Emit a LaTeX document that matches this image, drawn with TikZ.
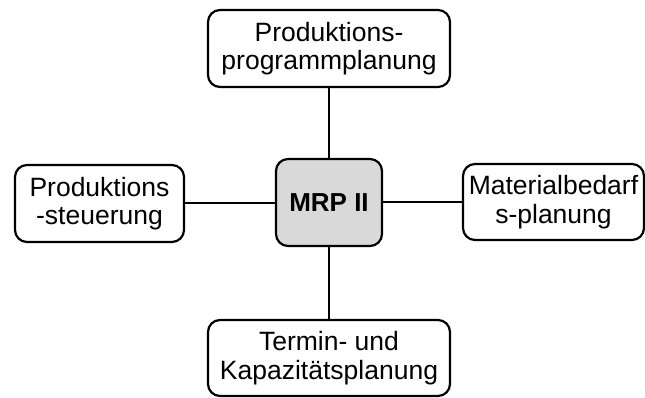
\documentclass[tikz,border=0pt]{standalone}
\usepackage{fontspec}
\setmainfont{Liberation Sans}
\begin{document}
\begin{tikzpicture}[x=1pt,y=-1pt,
  box/.style={draw=black, line width=2.2pt, rounded corners=12pt, fill=white,
    align=center, inner sep=0pt, font=\fontsize{26.5}{28.5}\selectfont},
  hub/.style={box, fill=hubgrey, font=\fontsize{26}{28}\selectfont\bfseries},
  link/.style={draw=black, line width=2pt}]
\definecolor{hubgrey}{HTML}{D9D9D9}
\useasboundingbox (0,0) rectangle (645,398);
% boxes
\node[hub, minimum width=106pt, minimum height=87pt] (mrp) at (329,202.5) {MRP II};
\node[box, minimum width=242pt, minimum height=77pt] (prog) at (329,48.5) {Produktions-\\programmplanung};
\node[box, minimum width=169pt, minimum height=77pt] (steu) at (99.5,203.5) {Produktions\\-steuerung};
\node[box, minimum width=181pt, minimum height=76pt] (mat) at (553.5,202) {Materialbedarf\\s-planung};
\node[box, minimum width=242pt, minimum height=76pt] (term) at (329,358) {Termin- und\\Kapazitätsplanung};
% connectors
\draw[link] (prog.south) -- (mrp.north);
\draw[link] (mrp.south) -- (term.north);
\draw[link] (steu.east) -- (steu.east -| mrp.west);
\draw[link] (mat.west) -- (mat.west -| mrp.east);
\end{tikzpicture}
\end{document}
